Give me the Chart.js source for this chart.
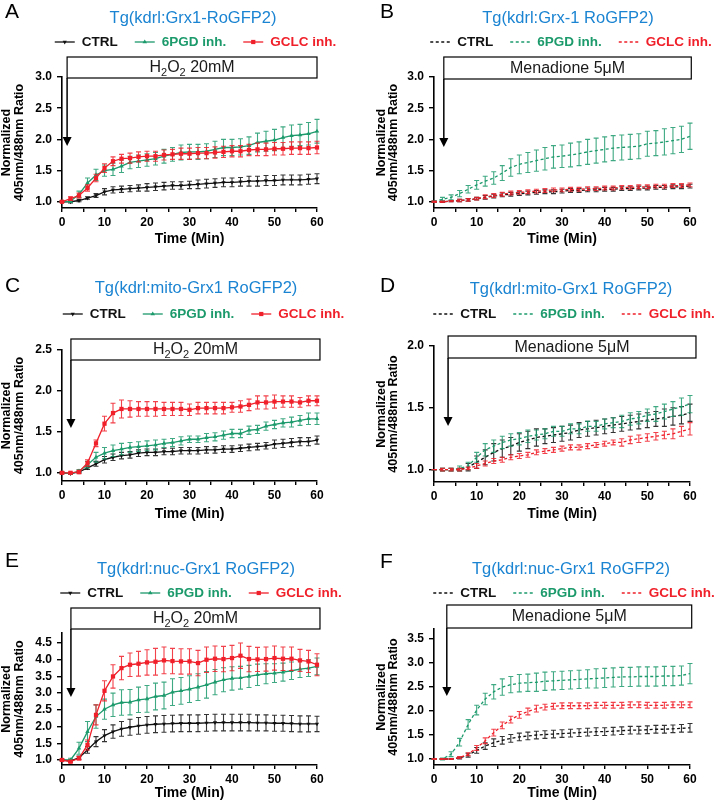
<!DOCTYPE html>
<html>
<head>
<meta charset="utf-8">
<title>Grx1-roGFP2 ratio time courses</title>
<script src="https://cdn.jsdelivr.net/npm/chart.js@4.4.1/dist/chart.umd.min.js"></script>
<style>
  html, body { margin: 0; padding: 0; background: #fff; }
  body { position: relative; width: 714px; height: 800px; overflow: hidden; }
  canvas { position: absolute; }
</style>
</head>
<body>
<script>
// --- 数据 ---
const time = [0, 2, 4, 6, 8, 10, 12, 14, 16, 18, 20, 22, 24, 26, 28, 30, 32, 34, 36, 38, 40, 42, 44, 46, 48, 50, 52, 54, 56, 58, 60];
const seriesNames = ['CTRL', '6PGD inh.', 'GCLC inh.'];

// A: Grx1-RoGFP2, H2O2
const aCtrl = [1.00,1.00,1.02,1.06,1.10,1.16,1.19,1.20,1.21,1.22,1.23,1.24,1.25,1.26,1.26,1.27,1.28,1.29,1.30,1.31,1.31,1.32,1.33,1.33,1.34,1.34,1.35,1.35,1.35,1.36,1.37];
const aCtrlErr = [0.01,0.02,0.02,0.02,0.03,0.05,0.05,0.05,0.05,0.05,0.06,0.06,0.06,0.06,0.06,0.06,0.07,0.07,0.07,0.07,0.07,0.07,0.08,0.08,0.08,0.08,0.08,0.08,0.08,0.08,0.08];
const aPgd = [1.00,1.01,1.12,1.30,1.43,1.50,1.52,1.57,1.63,1.65,1.67,1.69,1.73,1.76,1.79,1.80,1.80,1.81,1.84,1.87,1.87,1.88,1.90,1.95,1.97,1.99,2.03,2.06,2.07,2.09,2.13];
const aPgdErr = [0.01,0.02,0.05,0.08,0.09,0.09,0.10,0.10,0.10,0.10,0.10,0.10,0.11,0.11,0.12,0.12,0.12,0.12,0.13,0.13,0.13,0.13,0.14,0.15,0.16,0.17,0.17,0.17,0.17,0.18,0.19];
const aGclc = [1.00,1.05,1.10,1.22,1.38,1.54,1.65,1.69,1.70,1.72,1.73,1.73,1.75,1.76,1.77,1.77,1.78,1.78,1.79,1.80,1.81,1.81,1.83,1.84,1.84,1.85,1.85,1.86,1.86,1.86,1.87];
const aGclcErr = [0.01,0.03,0.04,0.05,0.06,0.07,0.07,0.07,0.08,0.08,0.08,0.08,0.08,0.08,0.09,0.09,0.09,0.09,0.09,0.09,0.09,0.09,0.09,0.10,0.10,0.10,0.10,0.10,0.10,0.10,0.10];

// B: Grx1 RoGFP2, menadione
const bCtrl = [1.00,1.00,1.01,1.02,1.03,1.05,1.07,1.09,1.11,1.12,1.13,1.14,1.15,1.16,1.16,1.17,1.18,1.18,1.19,1.19,1.20,1.20,1.21,1.21,1.22,1.22,1.23,1.23,1.24,1.24,1.25];
const bCtrlErr = [0.01,0.01,0.01,0.02,0.02,0.02,0.03,0.03,0.03,0.03,0.03,0.03,0.03,0.03,0.03,0.03,0.03,0.03,0.03,0.03,0.03,0.03,0.03,0.03,0.03,0.03,0.03,0.03,0.03,0.03,0.03];
const bPgd = [1.00,1.04,1.07,1.13,1.20,1.27,1.33,1.38,1.46,1.55,1.60,1.63,1.66,1.69,1.72,1.73,1.75,1.77,1.80,1.82,1.84,1.86,1.87,1.88,1.89,1.93,1.94,1.96,1.98,2.00,2.05];
const bPgdErr = [0.01,0.03,0.04,0.05,0.06,0.07,0.08,0.10,0.12,0.14,0.15,0.16,0.17,0.18,0.18,0.18,0.19,0.19,0.20,0.20,0.20,0.20,0.20,0.20,0.20,0.20,0.20,0.21,0.21,0.21,0.21];
const bGclc = [1.00,1.00,1.01,1.02,1.03,1.05,1.08,1.10,1.12,1.14,1.15,1.16,1.17,1.18,1.19,1.19,1.20,1.20,1.21,1.21,1.22,1.22,1.23,1.23,1.24,1.24,1.25,1.25,1.26,1.26,1.27];
const bGclcErr = [0.01,0.01,0.01,0.02,0.02,0.02,0.03,0.03,0.03,0.03,0.03,0.03,0.03,0.03,0.03,0.03,0.03,0.03,0.03,0.03,0.03,0.03,0.03,0.03,0.03,0.03,0.03,0.03,0.03,0.03,0.03];

// C: mito-Grx1 RoGFP2, H2O2
const cCtrl = [1.00,0.99,1.01,1.06,1.11,1.16,1.19,1.21,1.22,1.24,1.25,1.25,1.26,1.26,1.27,1.27,1.27,1.28,1.28,1.29,1.29,1.30,1.31,1.32,1.33,1.35,1.36,1.37,1.38,1.38,1.40];
const cCtrlErr = [0.01,0.01,0.01,0.02,0.03,0.04,0.04,0.04,0.04,0.04,0.04,0.04,0.04,0.04,0.04,0.04,0.04,0.04,0.04,0.04,0.04,0.04,0.04,0.04,0.04,0.05,0.05,0.05,0.05,0.05,0.05];
const cPgd = [1.00,0.99,1.02,1.10,1.19,1.24,1.27,1.29,1.31,1.32,1.33,1.34,1.36,1.37,1.39,1.41,1.41,1.43,1.44,1.46,1.48,1.48,1.52,1.53,1.57,1.59,1.61,1.62,1.64,1.66,1.66];
const cPgdErr = [0.01,0.01,0.02,0.04,0.06,0.07,0.07,0.07,0.06,0.06,0.06,0.06,0.05,0.05,0.05,0.04,0.04,0.05,0.05,0.05,0.05,0.05,0.05,0.05,0.05,0.05,0.05,0.06,0.06,0.07,0.07];
const cGclc = [1.00,1.00,1.01,1.12,1.36,1.60,1.73,1.78,1.78,1.78,1.78,1.78,1.78,1.78,1.78,1.77,1.79,1.79,1.79,1.79,1.80,1.81,1.83,1.86,1.86,1.87,1.87,1.87,1.86,1.88,1.88];
const cGclcErr = [0.01,0.01,0.02,0.04,0.04,0.09,0.12,0.11,0.10,0.09,0.09,0.09,0.08,0.08,0.08,0.07,0.07,0.07,0.07,0.07,0.06,0.07,0.07,0.08,0.08,0.08,0.07,0.07,0.06,0.06,0.06];

// D: mito-Grx1 RoGFP2, menadione
const dCtrl = [1.00,1.00,1.00,1.00,1.02,1.06,1.10,1.14,1.17,1.19,1.22,1.24,1.26,1.27,1.28,1.29,1.30,1.32,1.33,1.34,1.35,1.36,1.37,1.38,1.39,1.40,1.41,1.42,1.43,1.44,1.46];
const dCtrlErr = [0.00,0.01,0.01,0.01,0.03,0.05,0.06,0.07,0.07,0.07,0.07,0.07,0.07,0.06,0.06,0.06,0.06,0.06,0.06,0.06,0.06,0.06,0.06,0.06,0.06,0.06,0.06,0.07,0.07,0.07,0.07];
const dPgd = [1.00,1.00,1.00,1.01,1.03,1.10,1.16,1.19,1.22,1.24,1.25,1.27,1.28,1.29,1.31,1.31,1.33,1.33,1.35,1.35,1.37,1.38,1.39,1.41,1.42,1.44,1.45,1.47,1.49,1.51,1.53];
const dPgdErr = [0.00,0.01,0.01,0.02,0.03,0.04,0.05,0.05,0.05,0.05,0.05,0.05,0.04,0.04,0.04,0.04,0.04,0.04,0.04,0.04,0.04,0.04,0.05,0.05,0.05,0.05,0.06,0.06,0.06,0.07,0.07];
const dGclc = [1.00,1.00,1.00,1.00,1.01,1.03,1.05,1.07,1.08,1.10,1.11,1.12,1.14,1.15,1.16,1.17,1.18,1.18,1.19,1.20,1.21,1.22,1.22,1.24,1.25,1.26,1.27,1.28,1.29,1.31,1.33];
const dGclcErr = [0.00,0.01,0.01,0.01,0.01,0.02,0.02,0.02,0.02,0.02,0.02,0.02,0.02,0.02,0.02,0.02,0.02,0.02,0.02,0.02,0.02,0.02,0.03,0.03,0.03,0.03,0.03,0.03,0.04,0.04,0.05];

// E: nuc-Grx1 RoGFP2, H2O2
const eCtrl = [1.00,0.97,1.07,1.30,1.55,1.73,1.85,1.93,1.98,2.02,2.05,2.07,2.08,2.09,2.10,2.10,2.10,2.11,2.12,2.12,2.12,2.12,2.12,2.11,2.11,2.10,2.10,2.09,2.08,2.08,2.08];
const eCtrlErr = [0.02,0.03,0.05,0.10,0.15,0.18,0.20,0.22,0.24,0.25,0.25,0.25,0.25,0.25,0.25,0.25,0.25,0.25,0.25,0.25,0.25,0.25,0.25,0.24,0.24,0.24,0.24,0.24,0.24,0.24,0.23];
const ePgd = [1.00,1.00,1.35,1.85,2.30,2.52,2.65,2.72,2.73,2.80,2.83,2.90,2.93,3.03,3.07,3.12,3.18,3.25,3.33,3.40,3.44,3.46,3.50,3.55,3.58,3.60,3.63,3.67,3.72,3.75,3.80];
const ePgdErr = [0.02,0.05,0.18,0.30,0.35,0.30,0.35,0.38,0.38,0.38,0.40,0.40,0.40,0.40,0.40,0.40,0.40,0.40,0.38,0.36,0.35,0.34,0.33,0.32,0.30,0.28,0.27,0.26,0.25,0.25,0.25];
const eGclc = [1.00,0.95,1.05,1.45,2.35,3.07,3.50,3.75,3.85,3.88,3.92,3.94,3.98,3.96,3.95,3.95,3.90,4.00,4.03,4.02,4.05,4.12,4.02,4.01,4.02,4.05,4.03,4.03,3.98,3.95,3.85];
const eGclcErr = [0.02,0.03,0.05,0.15,0.30,0.30,0.35,0.35,0.35,0.37,0.38,0.40,0.40,0.38,0.38,0.38,0.38,0.38,0.38,0.38,0.38,0.38,0.38,0.36,0.36,0.36,0.35,0.35,0.33,0.33,0.33];

// F: nuc-Grx1 RoGFP2, menadione
const fCtrl = [1.00,1.00,1.00,1.02,1.08,1.18,1.27,1.34,1.39,1.43,1.46,1.48,1.50,1.51,1.52,1.53,1.54,1.55,1.56,1.57,1.57,1.58,1.59,1.60,1.60,1.61,1.62,1.62,1.63,1.64,1.65];
const fCtrlErr = [0.01,0.01,0.01,0.02,0.04,0.06,0.07,0.08,0.08,0.08,0.08,0.08,0.08,0.08,0.08,0.08,0.08,0.08,0.08,0.08,0.08,0.08,0.08,0.08,0.08,0.08,0.08,0.08,0.08,0.08,0.09];
const fPgd = [1.00,1.00,1.10,1.35,1.72,2.02,2.25,2.40,2.50,2.55,2.58,2.59,2.60,2.62,2.63,2.64,2.65,2.66,2.67,2.68,2.69,2.70,2.71,2.71,2.72,2.72,2.72,2.73,2.73,2.74,2.78];
const fPgdErr = [0.01,0.02,0.05,0.08,0.10,0.10,0.12,0.15,0.17,0.17,0.18,0.18,0.19,0.19,0.19,0.19,0.19,0.19,0.19,0.20,0.20,0.20,0.20,0.20,0.20,0.20,0.20,0.20,0.20,0.20,0.21];
const fGclc = [1.00,1.00,1.00,1.03,1.10,1.23,1.38,1.55,1.70,1.82,1.92,1.99,2.05,2.08,2.10,2.11,2.11,2.11,2.11,2.12,2.12,2.12,2.12,2.13,2.13,2.12,2.12,2.12,2.13,2.13,2.13];
const fGclcErr = [0.01,0.01,0.01,0.02,0.03,0.05,0.06,0.07,0.07,0.07,0.07,0.07,0.07,0.06,0.06,0.06,0.06,0.06,0.06,0.06,0.06,0.06,0.06,0.06,0.06,0.06,0.06,0.06,0.06,0.06,0.06];

// 刻度（x 轴每 5 分钟一个刻度，每 10 分钟一个标签）
const xTicks = [0, 5, 10, 15, 20, 25, 30, 35, 40, 45, 50, 55, 60];
const yTicksAB = [1.0, 1.5, 2.0, 2.5, 3.0];
const yTicksC = [1.0, 1.5, 2.0, 2.5];
const yTicksD = [1.0, 1.5, 2.0];
const yTicksE = [1.0, 1.5, 2.0, 2.5, 3.0, 3.5, 4.0, 4.5];
const yTicksF = [1.0, 1.5, 2.0, 2.5, 3.0, 3.5];

// 刺激标注（下标用 true 标记）
const stimH2O2 = [['H', false], ['2', true], ['O', false], ['2', true], [' 20mM', false]];
const stimMenadione = [['Menadione 5μM', false]];

// --- 样式 ---
const SANS = '"Liberation Sans", Arial, Helvetica, sans-serif';
const BLACK = '#111111';
const GREEN = '#1c9a6c';
const RED = '#f0202a';
const BLUE = '#1b84d2';
const colors = [BLACK, GREEN, RED];
const markers = [
  { style: 'triangle', rotation: 180, radius: 2.4 },
  { style: 'triangle', rotation: 0, radius: 2.6 },
  { style: 'rect', rotation: 0, radius: 3.0 }
];

Chart.defaults.font.family = SANS;
Chart.defaults.color = BLACK;

// --- 面板布局（像素，相对各自画布） ---
const panels = [
  { letter: 'A', title: 'Tg(kdrl:Grx1-RoGFP2)', left: 0, top: 0, height: 260, dashed: false,
    values: [aCtrl, aPgd, aGclc], errors: [aCtrlErr, aPgdErr, aGclcErr],
    yMin: 0.9, yMax: 3.0, yTicks: yTicksAB, stim: stimH2O2, stimStart: 1.2, stimEnd: 60,
    plotTop: 77, axisY: 208, xTitleY: 239, padLeft: 0, plotLeft: 62, plotRight: 317,
    letterPos: [5, 18], titlePos: [193, 18], legendPos: [195.5, 42], boxY: [57, 78] },
  { letter: 'B', title: 'Tg(kdrl:Grx-1 RoGFP2)', left: 357, top: 0, height: 260, dashed: true,
    values: [bCtrl, bPgd, bGclc], errors: [bCtrlErr, bPgdErr, bGclcErr],
    yMin: 0.9, yMax: 3.0, yTicks: yTicksAB, stim: stimMenadione, stimStart: 2.3, stimEnd: 60.3,
    plotTop: 77, axisY: 208, xTitleY: 239, padLeft: 17.5, plotLeft: 77, plotRight: 333,
    letterPos: [23, 18], titlePos: [211, 18], legendPos: [214, 42], boxY: [57, 79] },
  { letter: 'C', title: 'Tg(kdrl:mito-Grx1 RoGFP2)', left: 0, top: 260, height: 270, dashed: false,
    values: [cCtrl, cPgd, cGclc], errors: [cCtrlErr, cPgdErr, cGclcErr],
    yMin: 0.9, yMax: 2.5, yTicks: yTicksC, stim: stimH2O2, stimStart: 2.1, stimEnd: 60.7,
    plotTop: 90, axisY: 221, xTitleY: 254, padLeft: 0, plotLeft: 62, plotRight: 317,
    letterPos: [5, 32], titlePos: [196, 28], legendPos: [203.5, 54], boxY: [79, 100] },
  { letter: 'D', title: 'Tg(kdrl:mito-Grx1 RoGFP2)', left: 357, top: 260, height: 270, dashed: true,
    values: [dCtrl, dPgd, dGclc], errors: [dCtrlErr, dPgdErr, dGclcErr],
    yMin: 0.9, yMax: 2.0, yTicks: yTicksD, stim: stimMenadione, stimStart: 3.3, stimEnd: 61.4,
    plotTop: 86, axisY: 222, xTitleY: 254, padLeft: 17.5, plotLeft: 77, plotRight: 333,
    letterPos: [23, 32], titlePos: [214, 29], legendPos: [217, 54], boxY: [76, 98] },
  { letter: 'E', title: 'Tg(kdrl:nuc-Grx1 RoGFP2)', left: 0, top: 530, height: 270, dashed: false,
    values: [eCtrl, ePgd, eGclc], errors: [eCtrlErr, ePgdErr, eGclcErr],
    yMin: 0.85, yMax: 4.8, yTicks: yTicksE, stim: stimH2O2, stimStart: 2.1, stimEnd: 60.7,
    plotTop: 103, axisY: 235, xTitleY: 263, padLeft: 0, plotLeft: 62, plotRight: 317,
    letterPos: [5, 37], titlePos: [196, 39], legendPos: [201, 63], boxY: [78, 99] },
  { letter: 'F', title: 'Tg(kdrl:nuc-Grx1 RoGFP2)', left: 357, top: 530, height: 270, dashed: true,
    values: [fCtrl, fPgd, fGclc], errors: [fCtrlErr, fPgdErr, fGclcErr],
    yMin: 0.875, yMax: 3.71, yTicks: yTicksF, stim: stimMenadione, stimStart: 3.0, stimEnd: 60.4,
    plotTop: 99, axisY: 235, xTitleY: 263, padLeft: 17.5, plotLeft: 77, plotRight: 333,
    letterPos: [23, 38], titlePos: [214, 39], legendPos: [217, 63], boxY: [75, 98] }
];

const X_TITLE_SIZE = 14;

// --- 误差线插件 ---
const errorBars = {
  id: 'errorBars',
  afterDatasetDraw(chart, args) {
    const ds = chart.data.datasets[args.index];
    if (!ds.errors) return;
    const { ctx } = chart;
    const xs = chart.scales.x, ys = chart.scales.y;
    ctx.save();
    ctx.strokeStyle = ds.borderColor;
    ctx.globalAlpha = 0.85;
    ctx.lineWidth = 1.1;
    ctx.setLineDash([]);
    ds.data.forEach((p, i) => {
      const e = ds.errors[i];
      const px = xs.getPixelForValue(p.x);
      const top = ys.getPixelForValue(p.y + e);
      const bot = ys.getPixelForValue(p.y - e);
      ctx.beginPath();
      ctx.moveTo(px, top); ctx.lineTo(px, bot);
      ctx.moveTo(px - 2.5, top); ctx.lineTo(px + 2.5, top);
      ctx.moveTo(px - 2.5, bot); ctx.lineTo(px + 2.5, bot);
      ctx.stroke();
    });
    ctx.restore();
  }
};

const drawMarker = (ctx, m, x, y, color) => {
  ctx.fillStyle = color;
  ctx.beginPath();
  if (m.style === 'rect') {
    const s = m.radius * Math.SQRT1_2;
    ctx.rect(x - s, y - s, 2 * s, 2 * s);
  } else {
    const d = m.rotation ? -1 : 1;
    const r = m.radius;
    ctx.moveTo(x, y - d * r);
    ctx.lineTo(x - r * 0.87, y + d * r * 0.5);
    ctx.lineTo(x + r * 0.87, y + d * r * 0.5);
    ctx.closePath();
  }
  ctx.fill();
};

// --- 面板字母、标题、图例、刺激框 ---
const decor = {
  id: 'decor',
  afterDraw(chart, args, o) {
    const { ctx } = chart;
    const xs = chart.scales.x;
    ctx.save();

    ctx.fillStyle = '#000';
    ctx.font = '21px ' + SANS;
    ctx.textAlign = 'left';
    ctx.textBaseline = 'alphabetic';
    ctx.fillText(o.letter, o.letterPos[0], o.letterPos[1]);

    ctx.fillStyle = BLUE;
    ctx.font = '16.5px ' + SANS;
    ctx.textAlign = 'center';
    ctx.textBaseline = 'middle';
    ctx.fillText(o.title, o.titlePos[0], o.titlePos[1]);

    // 图例
    const sample = 20, gap = 7, spacing = 17;
    ctx.font = 'bold 13.5px ' + SANS;
    const items = chart.data.datasets.map(ds => ({ ds, w: ctx.measureText(ds.label).width }));
    const total = items.reduce((s, it) => s + sample + gap + it.w, 0) + spacing * (items.length - 1);
    let lx = o.legendPos[0] - total / 2;
    const ly = o.legendPos[1];
    items.forEach((it, i) => {
      const c = it.ds.borderColor;
      ctx.strokeStyle = c;
      ctx.lineWidth = 1.3;
      ctx.setLineDash(o.dashed ? it.ds.borderDash : []);
      ctx.beginPath();
      ctx.moveTo(lx, ly); ctx.lineTo(lx + sample, ly);
      ctx.stroke();
      ctx.setLineDash([]);
      if (!o.dashed) drawMarker(ctx, markers[i], lx + sample / 2, ly, c);
      ctx.fillStyle = c;
      ctx.textAlign = 'left';
      ctx.fillText(it.ds.label, lx + sample + gap, ly + 0.5);
      lx += sample + gap + it.w + spacing;
    });

    // 刺激框与箭头
    const bx0 = xs.getPixelForValue(o.stimStart);
    const bx1 = xs.getPixelForValue(o.stimEnd);
    const [by0, by1] = o.boxY;
    ctx.fillStyle = '#fff';
    ctx.strokeStyle = '#000';
    ctx.lineWidth = 1.2;
    ctx.fillRect(bx0, by0, bx1 - bx0, by1 - by0);
    ctx.strokeRect(bx0, by0, bx1 - bx0, by1 - by0);
    ctx.lineWidth = 1.5;
    ctx.beginPath();
    ctx.moveTo(bx0, by1);
    ctx.lineTo(bx0, by1 + 61);
    ctx.stroke();
    ctx.fillStyle = '#000';
    ctx.beginPath();
    ctx.moveTo(bx0, by1 + 68);
    ctx.lineTo(bx0 - 4.5, by1 + 59);
    ctx.lineTo(bx0 + 4.5, by1 + 59);
    ctx.closePath();
    ctx.fill();

    const mainFont = '16px ' + SANS, subFont = '11px ' + SANS;
    let tw = 0;
    o.stim.forEach(([t, sub]) => { ctx.font = sub ? subFont : mainFont; tw += ctx.measureText(t).width; });
    let tx = (bx0 + bx1) / 2 - tw / 2;
    const ty = (by0 + by1) / 2;
    ctx.textAlign = 'left';
    ctx.textBaseline = 'middle';
    ctx.fillStyle = '#1a1a1a';
    o.stim.forEach(([t, sub]) => {
      ctx.font = sub ? subFont : mainFont;
      ctx.fillText(t, tx, sub ? ty + 5 : ty + 0.5);
      tx += ctx.measureText(t).width;
    });
    ctx.restore();
  }
};

// --- 建图 ---
panels.forEach(p => {
  const canvas = document.createElement('canvas');
  canvas.width = 357;
  canvas.height = p.height;
  canvas.style.left = p.left + 'px';
  canvas.style.top = p.top + 'px';
  canvas.style.width = '357px';
  canvas.style.height = p.height + 'px';
  document.body.appendChild(canvas);

  // 轴的尺寸由面板布局决定
  const xAxisH = p.xTitleY + X_TITLE_SIZE / 2 - p.axisY;
  const yAxisW = p.plotLeft - p.padLeft;
  const pad = { left: p.padLeft, top: p.plotTop, right: 357 - p.plotRight, bottom: p.height - p.axisY - xAxisH };

  const datasets = p.values.map((vals, i) => ({
    label: seriesNames[i],
    data: time.map((t, k) => ({ x: t, y: vals[k] })),
    errors: p.errors[i],
    borderColor: colors[i],
    backgroundColor: colors[i],
    borderWidth: 1.3,
    borderDash: p.dashed ? [3, 2.5] : [],
    pointStyle: markers[i].style,
    pointRotation: markers[i].rotation,
    pointRadius: p.dashed ? 0 : markers[i].radius,
    pointBorderWidth: 0,
    tension: 0,
    clip: false,
    order: 2 - i
  }));

  new Chart(canvas, {
    type: 'line',
    data: { datasets },
    options: {
      responsive: false,
      animation: false,
      devicePixelRatio: 1,
      layout: { padding: pad },
      plugins: {
        legend: { display: false },
        title: { display: false },
        tooltip: { enabled: false },
        decor: {
          letter: p.letter, title: p.title, letterPos: p.letterPos, titlePos: p.titlePos,
          legendPos: p.legendPos, dashed: p.dashed, stim: p.stim,
          stimStart: p.stimStart, stimEnd: p.stimEnd, boxY: p.boxY
        }
      },
      scales: {
        x: {
          type: 'linear', min: 0, max: 60,
          afterBuildTicks: s => { s.ticks = xTicks.map(v => ({ value: v })); },
          afterFit: s => { s.height = xAxisH; },
          ticks: { font: { size: 12, weight: 'bold', lineHeight: 1 }, color: '#000', padding: 4.5,
                   maxRotation: 0, autoSkip: false, callback: v => (v % 10 === 0 ? String(v) : '') },
          grid: { drawOnChartArea: false, drawTicks: true, tickLength: 4, color: '#000', lineWidth: 1.4 },
          border: { display: true, color: '#000', width: 1.6 },
          title: { display: true, text: 'Time (Min)', color: '#000',
                   font: { size: X_TITLE_SIZE, weight: 'bold', lineHeight: 1 }, padding: 0 }
        },
        y: {
          min: p.yMin, max: p.yMax,
          afterBuildTicks: s => { s.ticks = p.yTicks.map(v => ({ value: v })); },
          afterFit: s => { s.width = yAxisW; },
          ticks: { font: { size: 12, weight: 'bold', lineHeight: 1 }, color: '#000', padding: 5,
                   callback: v => v.toFixed(1) },
          grid: { drawOnChartArea: false, drawTicks: true, tickLength: 5, color: '#000', lineWidth: 1.4 },
          border: { display: true, color: '#000', width: 1.6 },
          title: { display: true, text: ['Normalized', '405nm/488nm Ratio'], color: '#000',
                   font: { size: 12.5, weight: 'bold', lineHeight: 1 }, padding: { top: 0.75, bottom: 4 } }
        }
      }
    },
    plugins: [errorBars, decor]
  });
});
</script>
</body>
</html>
